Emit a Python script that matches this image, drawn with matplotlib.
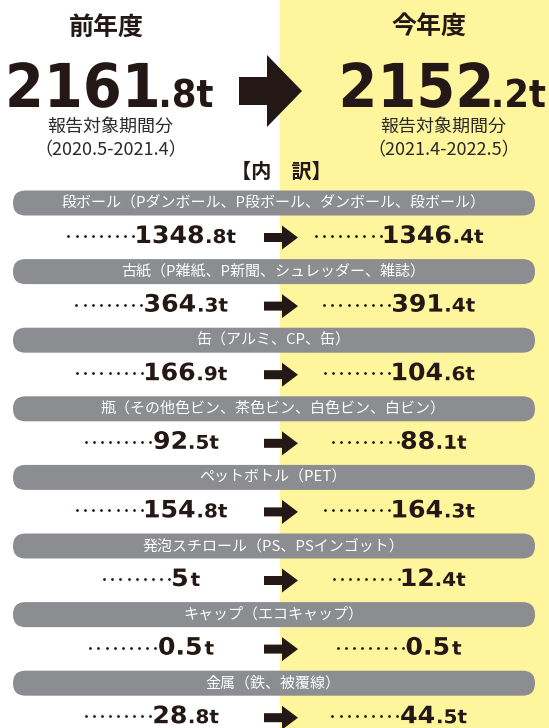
import matplotlib.pyplot as plt
from matplotlib.patches import Rectangle, FancyBboxPatch, Polygon, PathPatch
from matplotlib.textpath import TextPath
from matplotlib.font_manager import FontProperties
from matplotlib.transforms import Affine2D

plt.rcParams['font.family'] = ['Noto Sans CJK JP', 'DejaVu Sans']

# data
headers = ["前年度", "今年度"]
totals = [2161.8, 2152.2]
periods = ["（2020.5-2021.4）", "（2021.4-2022.5）"]
categories = [
    "段ボール（Pダンボール、P段ボール、ダンボール、段ボール）",
    "古紙（P雑紙、P新聞、シュレッダー、雑誌）",
    "缶（アルミ、CP、缶）",
    "瓶（その他色ビン、茶色ビン、白色ビン、白ビン）",
    "ペットボトル（PET）",
    "発泡スチロール（PS、PSインゴット）",
    "キャップ（エコキャップ）",
    "金属（鉄、被覆線）",
]
prev_values = [1348.8, 364.3, 166.9, 92.5, 154.8, 5, 0.5, 28.8]
curr_values = [1346.4, 391.4, 104.6, 88.1, 164.3, 12.4, 0.5, 44.5]

INK = '#231815'
YELLOW = '#FFF59D'
GRAY = '#8C8D90'
NUMPROP = FontProperties(family='DejaVu Sans', weight='bold')

W, H = 549, 728
fig = plt.figure(figsize=(W / 100, H / 100), dpi=100)
ax = fig.add_axes([0, 0, 1, 1])
ax.set_xlim(0, W)
ax.set_ylim(H, 0)
ax.axis('off')

split_x = 280
ax.add_patch(Rectangle((split_x, 0), W - split_x, H, color=YELLOW, zorder=0))


def split_value(v):
    # big part / small part as printed
    if v < 1:
        return f"{v:g}", "t"
    if float(v).is_integer():
        return f"{int(v)}", "t"
    i, d = f"{v:.1f}".split(".")
    return i, "." + d + "t"


def place(p, x, base, ys):
    ext = p.get_extents()
    tr = Affine2D().translate(-ext.x0, 0).scale(1, -ys).translate(x, base)
    ax.add_patch(PathPatch(tr.transform_path(p), color=INK, lw=0, zorder=3))


def draw_number(v, cx, base, big, small, ys, gap, ndots=0, step=8.1, dgap=4):
    a, b = split_value(v)
    pa = TextPath((0, 0), a, size=big, prop=NUMPROP)
    pb = TextPath((0, 0), b, size=small, prop=NUMPROP)
    wa = pa.get_extents().width
    wb = pb.get_extents().width
    dots_w = (ndots - 1) * step + dgap if ndots else 0
    x = cx - (dots_w + wa + gap + wb) / 2
    if ndots:
        xs = [x + k * step for k in range(ndots)]
        ax.plot(xs, [base - 7] * ndots, 'o', color=INK, ms=2, mew=0)
        x += dots_w
    place(pa, x, base, ys)
    place(pb, x + wa + gap, base, ys)


def arrow(x0, yc, shaft, head, sh, hh):
    pts = [(x0, yc - sh), (x0 + shaft, yc - sh), (x0 + shaft, yc - hh),
           (x0 + shaft + head, yc), (x0 + shaft, yc + hh),
           (x0 + shaft, yc + sh), (x0, yc + sh)]
    ax.add_patch(Polygon(pts, closed=True, color=INK, lw=0))


# header
ax.text(106, 29, headers[0], fontsize=18, fontweight='bold', ha='center', va='center', color=INK)
ax.text(429, 28, headers[1], fontsize=18, fontweight='bold', ha='center', va='center', color=INK)
for cx, tot, per in zip([111, 444], totals, periods):
    draw_number(tot, cx, 107, 56, 35.5, 1.08, 5)
    ax.text(cx - 1, 127, "報告対象期間分", fontsize=13, ha='center', va='center', color='#2a2a2a')
    ax.text(cx, 150, per, fontsize=13, ha='center', va='center', color='#2a2a2a')
arrow(239, 91, 28, 35, 14, 36)
ax.text(281, 171, "【内　訳】", fontsize=14.5, fontweight='bold', ha='center', va='center', color=INK)

# breakdown rows
for i, (cat, pv, cv) in enumerate(zip(categories, prev_values, curr_values)):
    py = 203 + 68.6 * i
    base = 243 + 68.6 * i
    ax.add_patch(FancyBboxPatch((13, py - 12.5), 522, 25,
                                boxstyle="round,pad=0,rounding_size=12.5",
                                color=GRAY, lw=0, zorder=1))
    ax.text(273, py, cat, fontsize=10.8, ha='center', va='center', color='white', zorder=2)
    draw_number(pv, 152, base, 25.2, 20, 0.95, 4, ndots=9)
    draw_number(cv, 399.5, base, 25.2, 20, 0.95, 4, ndots=9)
    arrow(264, base - 5.5, 18, 16, 4.5, 12)

fig.savefig('out.png', dpi=100)
